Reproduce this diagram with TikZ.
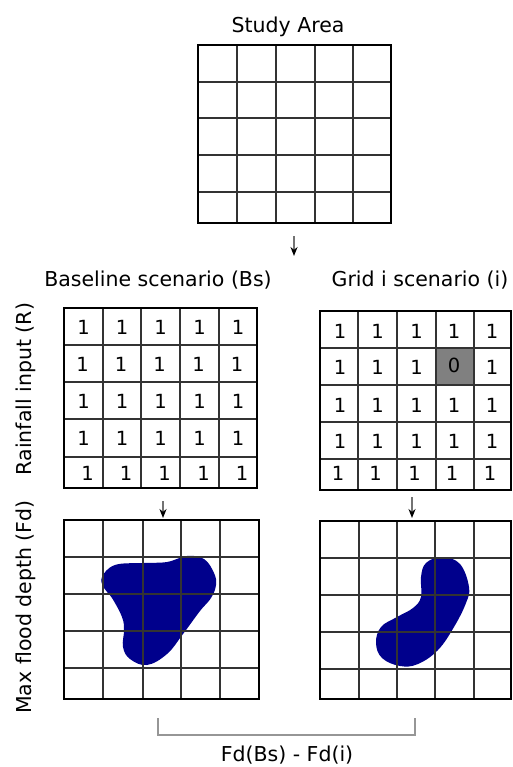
\documentclass[tikz,border=0pt]{standalone}
\usepackage{fontspec}
\setmainfont{DejaVu Sans}
\usetikzlibrary{arrows.meta}
\definecolor{flood}{RGB}{0,0,140}
\definecolor{cellgray}{RGB}{128,128,128}
\definecolor{bracketgray}{RGB}{150,150,150}
\tikzset{
  title/.style={font=\fontsize{20.5}{24}\selectfont, inner sep=0pt},
  num/.style={font=\fontsize{19.5}{22}\selectfont, inner sep=0pt},
  gridframe/.style={draw=black, line width=2.3pt, rectangle, inner sep=0pt, outer sep=0pt},
  gridline/.style={draw=black!80, line width=1.8pt},
  arr/.style={draw=black!55, line width=1.6pt, -{Stealth[length=9pt,width=7pt,black]}},
  bracket/.style={draw=bracketgray, line width=1.3pt},
  blob/.style={fill=flood, draw=none}
}
\begin{document}
\begin{tikzpicture}[x=1pt,y=-1pt]
\useasboundingbox (0,0) rectangle (513,767);
\fill[white] (0,0) rectangle (513,767);

% ---------- Study area ----------
\node[title] (tstudy) at (288,27) {Study Area};
\foreach \x in {237,276,315,353} \draw[gridline] (\x,45) -- (\x,223);
\foreach \y in {82,118,155,192} \draw[gridline] (198,\y) -- (391,\y);
\node[gridframe, minimum width=193pt, minimum height=178pt] (study) at (294.5,134) {};

\coordinate (a1s) at (294,236);
\coordinate (a1e) at (294,256);
\draw[arr] (a1s) -- (a1e);

% ---------- titles ----------
\node[title] (tbs) at (158,280) {Baseline scenario (Bs)};
\node[title] (tgi) at (420,280) {Grid i scenario (i)};
\node[title, rotate=90] (lrain) at (26,389) {Rainfall input (R)};
\node[title, rotate=90] (lfd) at (26,607) {Max flood depth (Fd)};

% ---------- Baseline rainfall grid ----------
\foreach \x in {103,141,180,219} \draw[gridline] (\x,308) -- (\x,488);
\foreach \y in {345,382,419,457} \draw[gridline] (64,\y) -- (257,\y);
\node[gridframe, minimum width=193pt, minimum height=180pt] (rbs) at (160.5,398) {};
\foreach \y/\dx [count=\r] in {327/0,364/-1,401/0,438/0,473/4}{
  \foreach \x [count=\c] in {83.5,122,160.5,199.5,238}{
    \node[num] (bs-\r-\c) at (\x+\dx,\y) {1};
  }
}

% ---------- Grid i rainfall grid ----------
\fill[cellgray] (436,349) rectangle (474,384);
\foreach \x in {358,397,436,474} \draw[gridline] (\x,311) -- (\x,490);
\foreach \y in {348,385,422,459} \draw[gridline] (320,\y) -- (511,\y);
\node[gridframe, minimum width=191pt, minimum height=179pt] (rgi) at (415.5,400.5) {};
\foreach \y/\dx [count=\r] in {331/0,367/0,405/0,441/0,473/-2}{
  \foreach \x [count=\c] in {340,377.5,416.5,454,492}{
    \ifnum\r\c=24
      \node[num] (gi-\r-\c) at (\x+\dx,\y-2) {0};
    \else
      \node[num] (gi-\r-\c) at (\x+\dx,\y) {1};
    \fi
  }
}

% ---------- arrows to flood grids ----------
\coordinate (a2s) at (163,501);
\coordinate (a2e) at (163,518);
\draw[arr] (a2s) -- (a2e);
\coordinate (a3s) at (412,497);
\coordinate (a3e) at (412,518);
\draw[arr] (a3s) -- (a3e);

% ---------- Baseline flood grid ----------
\fill[blob] plot[smooth cycle, tension=0.65] coordinates {
  (102,577) (115,565) (143,563) (167,562) (187,556) (204,559) (214,573)
  (216,585) (211,598) (200,611) (183,634) (167,654) (147,665) (130,659)
  (123,647) (124,630) (122,617) (112,598) (104,588)};
\foreach \x in {103,143,181,220} \draw[gridline] (\x,520) -- (\x,699);
\foreach \y in {557,594,631,668} \draw[gridline] (64,\y) -- (259,\y);
\node[gridframe, minimum width=195pt, minimum height=179pt] (fbs) at (161.5,609.5) {};

% ---------- Grid i flood grid ----------
\fill[blob] plot[smooth cycle, tension=0.65] coordinates {
  (442,557) (460,564) (469,587) (466,603) (454,627) (438,650) (418,664)
  (400,666) (382,658) (376,643) (381,627) (397,617) (413,608) (421,597)
  (421,577) (426,563)};
\foreach \x in {359,397,435,474} \draw[gridline] (\x,521) -- (\x,699);
\foreach \y in {558,595,632,669} \draw[gridline] (320,\y) -- (511,\y);
\node[gridframe, minimum width=191pt, minimum height=178pt] (fgi) at (415.5,610) {};

% ---------- bracket ----------
\coordinate (b1) at (158,718);
\coordinate (b2) at (158,735);
\coordinate (b3) at (415,735);
\coordinate (b4) at (415,718);
\draw[bracket] (b1) -- (b2) -- (b3) -- (b4);
\node[title] (diff) at (287,755) {Fd(Bs) - Fd(i)};
\end{tikzpicture}
\end{document}
